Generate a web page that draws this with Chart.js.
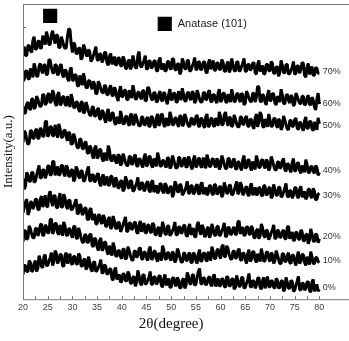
<!DOCTYPE html>
<html>
<head>
<meta charset="utf-8">
<script src="https://cdn.jsdelivr.net/npm/chart.js@4"></script>
<style>
  body { margin: 0; background: #fff; overflow: hidden; }
</style>
</head>
<body>
<canvas id="xrdChart" width="349" height="341"></canvas>
<script>
// 2theta sampling grid (degrees), 0.25 deg step from 20 to 80
const thetaStart = 20, thetaStep = 0.25, thetaCount = 241;
const twoTheta = [];
for (let i = 0; i < thetaCount; i++) twoTheta.push(thetaStart + i * thetaStep);

// intensities (a.u., stacked offsets)
const xrd70 = [
  252,255,246,246,256,256,251,249,261,265,252,253,260,261,253,254,266,262,257,270,
  265,257,257,267,271,263,258,267,266,254,254,265,261,256,253,254,265,273,272,258,
  249,259,257,248,248,253,254,242,244,257,254,247,245,252,250,240,242,246,250,255,
  242,241,248,247,239,242,249,249,239,236,245,248,237,240,245,236,237,244,243,236,
  235,245,242,233,233,240,242,232,235,246,240,234,233,246,250,236,234,238,241,246,
  232,233,241,240,233,235,240,241,231,230,241,244,232,234,238,230,231,240,240,233,
  232,243,242,232,231,237,238,227,230,243,239,233,232,241,241,230,231,235,238,244,
  232,232,240,239,231,233,239,240,230,228,238,242,232,236,241,231,231,239,238,232,
  232,242,239,230,230,237,240,229,232,243,237,231,230,239,240,230,231,235,238,243,
  230,230,237,237,231,233,238,239,229,227,237,241,230,232,236,227,228,237,237,231,
  230,240,238,228,228,234,235,225,229,241,236,229,228,237,237,227,228,231,234,240,
  227,228,236,235,228,232,239,238,226,224,234,238,227,230,235,226,226,234,233,228,
  228];
const xrd60 = [
  220,222,230,231,223,222,233,229,224,238,233,225,225,235,238,231,228,237,236,226,
  228,242,241,234,229,228,237,236,226,228,236,237,226,224,232,230,223,220,231,234,
  221,221,227,226,216,215,226,221,216,228,222,214,213,220,221,215,212,220,217,207,
  208,220,217,212,209,208,216,215,206,207,213,216,206,205,214,211,204,200,210,215,
  204,205,211,211,202,201,211,207,203,216,210,202,202,209,209,204,202,211,210,200,
  201,214,213,207,202,201,209,208,199,200,207,210,201,200,209,207,200,197,207,212,
  201,202,208,208,199,199,210,206,201,213,207,200,200,208,209,203,201,210,208,198,
  200,211,207,202,199,199,208,209,201,202,209,211,200,199,207,206,201,198,208,212,
  199,201,208,208,200,198,207,203,199,212,206,199,200,207,208,202,199,208,206,196,
  198,210,207,203,200,199,208,208,199,204,215,214,200,199,207,205,199,196,206,211,
  200,201,208,207,198,196,205,202,199,212,206,198,197,205,207,201,198,206,204,195,
  197,208,205,201,198,197,205,205,196,197,203,206,197,196,204,201,194,191,202,208,
  197];
const xrd50 = [
  195,188,188,197,199,193,191,202,202,192,194,205,202,197,194,196,207,206,196,198,
  206,208,198,200,211,207,198,195,206,209,196,197,204,205,197,195,205,200,194,207,
  202,194,193,199,199,192,189,199,199,188,189,199,195,190,186,185,194,194,185,185,
  191,193,182,182,191,189,182,178,188,192,180,181,188,188,179,176,184,181,177,190,
  184,177,177,184,185,178,175,186,187,176,177,187,183,178,175,175,184,184,176,176,
  182,184,174,175,185,183,176,173,183,187,175,178,187,186,176,174,183,179,175,189,
  184,176,176,183,183,177,174,185,185,175,176,187,183,178,175,174,182,183,176,177,
  184,186,175,174,183,182,176,173,184,187,174,175,182,183,176,174,183,179,175,189,
  184,176,176,186,189,180,175,184,183,174,176,186,182,177,174,174,184,184,176,177,
  183,185,175,174,182,181,175,172,183,187,174,179,189,186,175,173,182,178,174,187,
  181,174,175,182,183,176,173,182,180,171,174,185,181,176,172,171,180,181,174,175,
  181,183,173,171,179,178,173,170,180,184,172,173,179,180,172,170,179,175,171,183,
  177];
const xrd40 = [
  158,170,168,161,156,158,170,170,162,163,170,172,162,163,173,171,164,165,179,180,
  164,166,174,174,165,165,176,170,163,177,172,164,163,170,171,164,160,169,167,156,
  157,167,163,157,153,153,162,161,152,152,158,159,148,147,155,153,146,142,152,155,
  142,144,151,151,142,139,148,144,140,155,151,141,139,145,145,139,137,146,145,135,
  137,147,143,138,135,135,144,144,136,137,144,146,135,134,142,141,136,133,143,147,
  134,136,144,144,135,133,142,138,134,148,143,135,134,140,140,135,133,143,142,132,
  134,145,141,136,132,133,143,143,134,135,141,143,133,134,144,141,134,131,141,145,
  133,135,142,142,134,133,143,138,132,146,141,134,134,141,142,136,133,142,140,131,
  134,145,141,136,132,132,142,142,133,134,140,142,132,131,139,138,133,130,141,145,
  132,133,140,141,133,130,139,135,131,145,140,133,133,140,141,135,132,141,139,130,
  133,144,140,135,131,130,138,139,132,133,140,142,131,129,137,136,131,128,138,142,
  129,130,137,138,130,127,135,132,128,141,136,128,128,134,134,129,127,135,133,125,
  128];
const xrd30 = [
  122,111,114,128,125,119,119,128,128,118,119,125,130,135,122,123,131,130,122,126,
  134,135,125,126,139,139,125,129,134,125,126,135,135,127,124,135,133,124,124,130,
  131,119,121,134,131,124,122,130,129,119,120,125,130,134,120,119,126,125,118,120,
  126,127,117,114,123,126,115,119,124,115,115,124,124,116,113,123,120,112,113,119,
  120,109,111,124,120,113,112,120,119,109,110,114,117,123,111,111,118,117,109,111,
  117,119,110,108,118,120,108,111,115,107,109,117,116,109,107,117,115,107,108,113,
  114,103,106,119,116,109,108,116,115,105,107,110,113,119,107,107,115,114,106,108,
  114,116,107,106,116,118,106,109,113,105,107,115,114,107,105,116,115,106,107,113,
  114,103,106,118,113,107,107,115,115,105,106,110,114,119,106,108,118,115,105,107,
  112,114,106,104,114,117,105,108,113,105,106,113,112,105,104,115,114,105,106,112,
  113,102,104,116,111,105,105,113,113,103,104,108,112,117,104,103,110,109,102,105,
  112,113,104,102,111,114,103,105,109,101,103,111,111,104,102,112,109,100,101,106,
  107];
const xrd20 = [
  87,93,98,101,85,88,98,98,91,94,101,101,91,90,101,104,93,98,105,94,
  93,105,109,99,94,105,104,93,92,102,107,93,93,106,102,94,91,100,100,90,
  91,94,97,101,86,87,96,94,85,87,92,92,81,80,90,92,80,82,86,76,
  76,85,85,78,76,85,82,73,74,81,83,71,73,84,79,72,71,78,77,68,
  71,75,79,83,68,69,77,77,70,72,77,78,68,66,75,79,68,72,77,67,
  67,75,75,68,67,77,75,65,65,71,73,63,67,78,73,66,65,74,74,64,
  66,69,72,78,65,65,73,73,66,68,74,75,65,63,72,76,65,68,72,63,
  63,75,78,69,65,75,72,63,64,71,73,62,65,76,71,65,64,73,74,64,
  65,69,72,77,63,64,73,72,65,66,71,73,65,66,78,79,66,69,73,64,
  65,73,73,66,65,74,71,62,62,69,71,61,64,76,72,64,62,70,69,60,
  63,67,70,75,61,62,70,69,62,63,68,70,61,61,72,74,61,64,68,59,
  60,68,67,61,60,70,68,59,59,65,66,56,60,71,66,59,58,66,65,57,
  61];
const xrd10 = [
  58,69,69,60,62,74,71,66,62,62,71,72,64,67,75,76,64,65,75,73,
  67,67,80,81,66,69,77,76,67,65,75,70,64,78,74,65,64,71,71,65,
  62,73,74,62,61,72,68,62,58,57,65,65,57,58,65,66,54,53,62,60,
  53,49,59,62,49,51,58,57,48,45,54,49,44,57,52,44,43,49,49,43,
  41,51,50,40,42,53,49,44,40,39,48,49,42,44,51,52,41,40,48,47,
  42,39,50,53,40,41,48,49,41,38,47,43,39,54,50,41,40,47,47,41,
  39,48,46,37,40,51,48,42,38,37,46,47,39,39,45,47,37,37,47,45,
  39,36,46,50,38,39,46,47,40,38,48,44,39,53,48,41,41,49,51,44,
  41,53,55,43,43,54,51,45,41,40,48,49,41,42,49,51,40,39,47,46,
  40,36,46,50,38,40,48,48,40,37,46,42,38,51,45,38,39,47,48,41,
  38,47,45,36,39,49,45,40,36,36,46,46,38,38,44,47,37,36,45,44,
  38,34,43,48,36,38,45,45,37,34,43,39,35,48,43,36,36,42,42,38,
  37];
const xrd0 = [
  25,34,34,28,28,39,37,28,29,36,39,28,31,44,40,33,32,43,45,34,
  34,38,42,47,34,38,49,46,36,39,45,45,34,33,44,47,36,40,46,36,
  35,43,43,36,35,46,44,34,33,39,41,30,32,43,38,30,28,37,38,28,
  29,32,35,40,26,27,35,33,25,26,30,31,21,19,29,32,20,22,25,17,
  18,26,25,19,18,28,25,16,16,22,23,13,17,29,24,16,14,24,25,15,
  16,19,22,28,15,15,23,22,15,17,23,24,14,12,21,25,14,17,21,12,
  12,21,22,15,13,22,19,11,12,19,21,11,14,27,23,16,15,24,25,14,
  15,22,28,31,16,15,22,21,14,16,21,23,15,13,23,25,13,16,21,13,
  14,21,20,13,12,23,22,13,14,20,21,10,12,24,19,13,13,22,22,11,
  12,16,20,26,13,12,19,18,11,14,21,22,12,10,19,22,11,16,23,13,
  12,19,18,12,11,21,19,11,12,18,19,8,10,22,17,11,11,19,18,8,
  9,14,18,23,10,9,16,16,9,11,17,18,9,7,17,20,8,11,15,8,
  10];

const seriesNames = ['70%', '60%', '50%', '40%', '30%', '20%', '10%', '0%'];
const seriesData = [xrd70, xrd60, xrd50, xrd40, xrd30, xrd20, xrd10, xrd0];
const labelLevels = [230, 198, 175, 130, 105, 63, 39, 12];

// axis ticks
const xTickValues = [20,22.5,25,27.5,30,32.5,35,37.5,40,42.5,45,47.5,50,52.5,55,57.5,60,62.5,65,67.5,70,72.5,75,77.5,80];
const xTickLabels = ['20','25','30','35','40','45','50','55','60','65','70','75','80'];
const yTickValues = [275];

// anatase (101) markers: peak marker and legend marker
const anatasePeak = { x: 25.5, y: 286 };
const anataseKey = { x: 48.7, y: 278 };

const datasets = seriesData.map((vals, i) => ({
  label: seriesNames[i],
  data: vals.map((v, j) => ({ x: twoTheta[j], y: v })),
  borderColor: '#000',
  borderWidth: 3,
  borderJoinStyle: 'bevel',
  pointRadius: 0,
  tension: 0
}));
datasets.push({
  label: 'Anatase (101)',
  data: [anatasePeak, anataseKey],
  showLine: false,
  pointStyle: 'rect',
  pointRadius: 10,
  backgroundColor: '#000',
  borderColor: '#000',
  borderWidth: 0
});

const overlay = {
  id: 'overlay',
  afterDraw(chart) {
    const { ctx, chartArea: a, scales: { x, y } } = chart;
    ctx.save();
    // frame
    ctx.strokeStyle = '#777';
    ctx.lineWidth = 1;
    ctx.strokeRect(a.left + 0.5, a.top + 0.5, a.right - a.left, a.bottom - a.top);
    // inward ticks
    ctx.beginPath();
    xTickValues.forEach(v => {
      const px = Math.round(x.getPixelForValue(v)) + 0.5;
      ctx.moveTo(px, a.bottom);
      ctx.lineTo(px, a.bottom - 3);
    });
    yTickValues.forEach(v => {
      const py = Math.round(y.getPixelForValue(v)) + 0.5;
      ctx.moveTo(a.left, py);
      ctx.lineTo(a.left + 3, py);
    });
    ctx.stroke();

    // series labels at right
    ctx.fillStyle = '#333';
    ctx.font = '9px "Liberation Sans"';
    ctx.textAlign = 'left';
    ctx.textBaseline = 'middle';
    seriesNames.forEach((name, i) => {
      ctx.fillText(name, x.getPixelForValue(80.7), y.getPixelForValue(labelLevels[i]));
    });

    // legend text
    ctx.font = '11px "Liberation Sans"';
    ctx.fillStyle = '#222';
    ctx.fillText('Anatase (101)', x.getPixelForValue(anataseKey.x) + 13, y.getPixelForValue(anataseKey.y));

    // axis titles
    ctx.fillStyle = '#111';
    ctx.font = '15px "Liberation Serif"';
    ctx.textAlign = 'center';
    ctx.fillText('2\u03b8(degree)', x.getPixelForValue(50), 324);
    ctx.translate(9, (a.top + a.bottom) / 2);
    ctx.rotate(-Math.PI / 2);
    ctx.font = '13px "Liberation Serif"';
    ctx.fillText('Intensity(a.u.)', 0, 0);
    ctx.restore();
  }
};

new Chart(document.getElementById('xrdChart'), {
  type: 'line',
  data: { datasets },
  options: {
    responsive: false,
    animation: false,
    layout: { autoPadding: false, padding: { left: 23, top: 4, right: 0, bottom: 25 } },
    plugins: { legend: { display: false }, tooltip: { enabled: false } },
    scales: {
      x: {
        type: 'linear',
        min: 20,
        max: 86,
        afterBuildTicks: (axis) => { axis.ticks = xTickValues.map(v => ({ value: v })); },
        afterFit: (axis) => { axis.paddingLeft = 0; axis.paddingRight = 0; },
        grid: { display: false, drawTicks: false },
        border: { display: false },
        ticks: {
          autoSkip: false,
          maxRotation: 0,
          padding: 3,
          color: '#444',
          font: { family: 'Liberation Sans', size: 9 },
          callback: (v) => (v % 5 === 0 ? xTickLabels[(v - 20) / 5] : '')
        }
      },
      y: {
        display: false,
        min: 0,
        max: 298
      }
    }
  },
  plugins: [overlay]
});
</script>
</body>
</html>
